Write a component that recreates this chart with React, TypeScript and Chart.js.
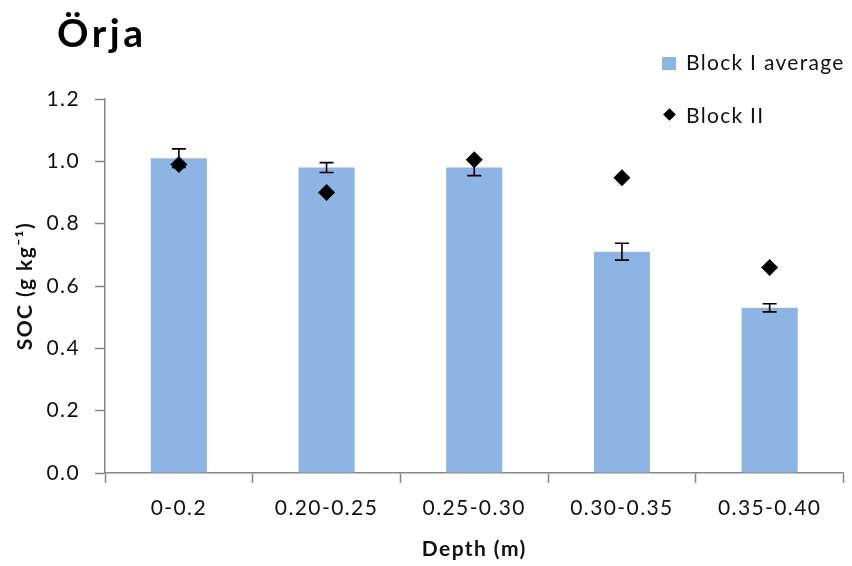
import React, { useEffect, useRef } from "react";
import { Chart, registerables } from "chart.js";

Chart.register(...registerables);

const categories = ["0-0.2", "0.20-0.25", "0.25-0.30", "0.30-0.35", "0.35-0.40"];
const blockIAverage = [1.01, 0.98, 0.98, 0.71, 0.53];
const blockIError = [0.03, 0.016, 0.026, 0.027, 0.013];
const blockII = [0.99, 0.9, 1.005, 0.947, 0.659];
const yMin = 0;
const yMax = 1.2;
const yStep = 0.2;

const FONT = "Lato, 'Open Sans', sans-serif";
const BAR_COLOR = "#8EB4E3";
const AXIS_COLOR = "#868686";
const TEXT_COLOR = "#111";
const SPACING = "1.4px";

const spacingPlugin = {
  id: "spacing",
  beforeUpdate(chart: any) {
    chart.ctx.letterSpacing = SPACING;
  },
  beforeLayout(chart: any) {
    chart.ctx.letterSpacing = SPACING;
  },
  beforeDraw(chart: any) {
    chart.ctx.letterSpacing = SPACING;
  },
};

const errorBarPlugin = {
  id: "errorBars",
  afterDatasetDraw(chart: any, args: any) {
    if (args.index !== 0) return;
    const meta = chart.getDatasetMeta(0);
    const yScale = chart.scales.y;
    const ctx = chart.ctx;
    ctx.save();
    ctx.strokeStyle = "#000";
    ctx.lineWidth = 1.6;
    meta.data.forEach((bar: any, i: number) => {
      const v = blockIAverage[i];
      const e = blockIError[i];
      const x = bar.x;
      const yt = yScale.getPixelForValue(v + e);
      const yb = yScale.getPixelForValue(v - e);
      const cap = 7;
      ctx.beginPath();
      ctx.moveTo(x, yt);
      ctx.lineTo(x, yb);
      ctx.moveTo(x - cap, yt);
      ctx.lineTo(x + cap, yt);
      ctx.moveTo(x - cap, yb);
      ctx.lineTo(x + cap, yb);
      ctx.stroke();
    });
    ctx.restore();
  },
};

export default function App() {
  const canvasRef = useRef<HTMLCanvasElement | null>(null);

  useEffect(() => {
    const canvas = canvasRef.current;
    if (!canvas) return;
    const chart = new Chart(canvas, {
      type: "bar",
      data: {
        labels: categories,
        datasets: [
          {
            type: "bar",
            label: "Block I average",
            data: blockIAverage,
            backgroundColor: BAR_COLOR,
            borderWidth: 0,
            categoryPercentage: 1,
            barPercentage: 0.38,
            order: 2,
          },
          {
            type: "line",
            label: "Block II",
            data: blockII,
            showLine: false,
            pointStyle: "rectRot",
            pointRadius: 8.5,
            pointBackgroundColor: "#000",
            pointBorderColor: "#000",
            pointBorderWidth: 0,
            order: 1,
          } as any,
        ],
      },
      options: {
        responsive: false,
        animation: false,
        devicePixelRatio: 1,
        layout: { padding: { top: 99, left: 0, right: 1, bottom: 0 } },
        plugins: {
          legend: { display: false },
          tooltip: { enabled: false },
          title: { display: false },
        },
        scales: {
          x: {
            grid: {
              display: true,
              offset: true,
              drawOnChartArea: false,
              drawTicks: true,
              tickLength: 10,
              tickColor: AXIS_COLOR,
              tickWidth: 1.5,
            },
            border: { display: true, color: AXIS_COLOR, width: 1.5 },
            ticks: {
              color: TEXT_COLOR,
              font: { family: FONT, size: 21 },
              padding: 13,
              maxRotation: 0,
            },
            title: {
              display: true,
              text: "Depth (m)",
              color: TEXT_COLOR,
              font: { family: FONT, size: 21, weight: "bold" },
              padding: { top: 0, bottom: 4 },
            },
            afterFit(scale: any) {
              scale.height = 93;
            },
          },
          y: {
            min: yMin,
            max: yMax,
            grid: {
              display: true,
              drawOnChartArea: false,
              drawTicks: true,
              tickLength: 10,
              tickColor: AXIS_COLOR,
              tickWidth: 1.5,
            },
            border: { display: true, color: AXIS_COLOR, width: 1.5 },
            ticks: {
              stepSize: yStep,
              color: TEXT_COLOR,
              font: { family: FONT, size: 21 },
              padding: 15,
              callback: (v: any) => Number(v).toFixed(1),
            },
            title: {
              display: true,
              text: "SOC (g kg⁻¹)",
              color: TEXT_COLOR,
              font: { family: FONT, size: 21, weight: "bold" },
              padding: { top: 13, bottom: 0 },
            },
            afterFit(scale: any) {
              scale.width = 105;
            },
          },
        },
      },
      plugins: [spacingPlugin, errorBarPlugin],
    });
    return () => chart.destroy();
  }, []);

  return (
    <div
      style={{
        position: "fixed",
        left: 0,
        top: 0,
        width: 852,
        height: 566,
        background: "#fff",
        fontFamily: FONT,
        color: TEXT_COLOR,
      }}
    >
      <canvas ref={canvasRef} width={852} height={566} style={{ display: "block" }} />
      <div
        style={{
          position: "absolute",
          left: 57,
          top: 13,
          fontSize: 39,
          fontWeight: "bold",
          lineHeight: 1,
          letterSpacing: "3.5px",
          color: "#000",
          whiteSpace: "nowrap",
        }}
      >
        Örja
      </div>
      <div
        style={{
          position: "absolute",
          left: 662,
          top: 57,
          width: 14,
          height: 13,
          background: BAR_COLOR,
        }}
      />
      <div
        style={{
          position: "absolute",
          left: 686,
          top: 51,
          fontSize: 21,
          lineHeight: 1,
          letterSpacing: "1.3px",
          whiteSpace: "nowrap",
        }}
      >
        Block I average
      </div>
      <div
        style={{
          position: "absolute",
          left: 665,
          top: 110,
          width: 9,
          height: 9,
          background: "#000",
          transform: "rotate(45deg)",
        }}
      />
      <div
        style={{
          position: "absolute",
          left: 686,
          top: 104,
          fontSize: 21,
          lineHeight: 1,
          letterSpacing: "1.3px",
          whiteSpace: "nowrap",
        }}
      >
        Block II
      </div>
    </div>
  );
}
